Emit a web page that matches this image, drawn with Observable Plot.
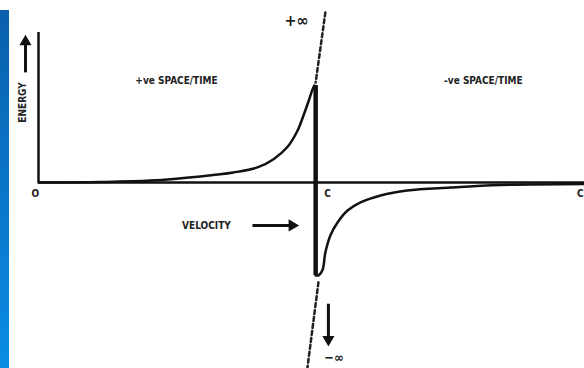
<!DOCTYPE html>
<html>
<head>
<meta charset="utf-8">
<script src="https://cdn.jsdelivr.net/npm/d3@7"></script>
<script src="https://cdn.jsdelivr.net/npm/@observablehq/plot@0.6"></script>
<style>
  html, body { margin: 0; padding: 0; background: #fff; }
  #wrap { position: relative; width: 584px; height: 368px; overflow: hidden; }
  #strip { position: absolute; left: 0; top: 10px; width: 9px; height: 358px;
           background: linear-gradient(#0a60ad, #0a8ce4); }
  #chart { position: absolute; left: 0; top: 0; }
</style>
</head>
<body>
<div id="wrap"><div id="chart"></div><div id="strip"></div></div>
<script>
// velocity (units of c) and energy values
const upperV = [0, 0.224, 0.404, 0.584, 0.703, 0.790, 0.848, 0.898, 0.934, 0.956, 0.974, 0.988, 0.995];
const upperE = [0, 0.005, 0.02, 0.062, 0.103, 0.155, 0.240, 0.365, 0.530, 0.690, 0.835, 0.955, 1.0];
const lowerV = [1.0, 1.012, 1.025, 1.035, 1.053, 1.079, 1.115, 1.162, 1.234, 1.331, 1.486, 1.667, 1.97];
const lowerE = [-0.96, -0.955, -0.90, -0.722, -0.546, -0.412, -0.289, -0.206, -0.134, -0.082, -0.052, -0.026, -0.015];
const cV = 1.0, peakE = 1.0, troughE = -0.96;
const xMax = 1.97, yAxisTop = 1.546;
const dashTopV = [1.035, 1.0], dashTopE = [1.753, 1.03];
const dashBotV = [1.01, 0.970], dashBotE = [-1.03, -1.918];
const labels = ["O", "C", "C", "+ve SPACE/TIME", "-ve SPACE/TIME", "VELOCITY"];
const labelV = [-0.011, 1.043, 1.955, 0.498, 1.605, 0.606];
const labelE = [-0.113, -0.113, -0.113, 1.05, 1.05, -0.443];
const infLabels = ["+\u221e", "\u2212\u221e"];
const infV = [0.931, 1.066];
const infE = [1.67, -1.81];
const infSize = [16, 13];
// arrows: shaft start, shaft end, head centre, head direction (degrees)
const arrowV1 = [-0.047, 0.772, 1.046];
const arrowE1 = [1.135, -0.443, -1.25];
const arrowV2 = [-0.047, 0.915, 1.046];
const arrowE2 = [1.44, -0.443, -1.61];
const headV = [-0.047, 0.915, 1.046];
const headE = [1.45, -0.443, -1.62];
const arrowDir = [0, 90, 180];

const upper = upperV.map((v, i) => ({v, e: upperE[i]}));
const lower = lowerV.map((v, i) => ({v, e: lowerE[i]}));
const dashTop = dashTopV.map((v, i) => ({v, e: dashTopE[i]}));
const dashBot = dashBotV.map((v, i) => ({v, e: dashBotE[i]}));
const lab = labels.map((t, i) => ({t, v: labelV[i], e: labelE[i]}));
const inf = infLabels.map((t, i) => ({t, v: infV[i], e: infE[i], s: infSize[i]}));
const arrows = arrowV1.map((v1, i) => ({v1, e1: arrowE1[i], v2: arrowV2[i], e2: arrowE2[i],
  hv: headV[i], he: headE[i], dir: arrowDir[i]}));
const fontFam = "'DejaVu Sans Condensed', 'DejaVu Sans', sans-serif";

const plot = Plot.plot({
  width: 584, height: 368,
  marginLeft: 38, marginRight: 0, marginTop: 0, marginBottom: 0,
  x: {domain: [0, xMax], axis: null},
  y: {domain: [-1.918, 1.876], axis: null},
  style: {background: "transparent", fontFamily: fontFam},
  marks: [
    Plot.ruleY([0], {x1: 0, x2: xMax, stroke: "#111", strokeWidth: 2.5}),
    Plot.ruleX([0], {y1: 0, y2: yAxisTop, stroke: "#111", strokeWidth: 2.5}),
    Plot.line(dashTop, {x: "v", y: "e", stroke: "#222", strokeWidth: 2.5, strokeDasharray: "4,3"}),
    Plot.line(dashBot, {x: "v", y: "e", stroke: "#222", strokeWidth: 2.5, strokeDasharray: "4,3"}),
    Plot.line(upper, {x: "v", y: "e", stroke: "#111", strokeWidth: 2.5, curve: "catmull-rom"}),
    Plot.line(lower, {x: "v", y: "e", stroke: "#111", strokeWidth: 2.5, curve: "catmull-rom"}),
    Plot.ruleX([cV], {y1: peakE, y2: troughE, stroke: "#111", strokeWidth: 4.5}),
    Plot.link(arrows, {x1: "v1", y1: "e1", x2: "v2", y2: "e2", stroke: "#111", strokeWidth: 3}),
    Plot.dot(arrows, {x: "hv", y: "he", rotate: "dir", symbol: "triangle", r: 4.5, fill: "#111"}),
    Plot.text(lab, {x: "v", y: "e", text: "t", fontSize: 10, fontWeight: "bold", fill: "#222"}),
    Plot.text(inf, {x: "v", y: "e", text: "t", fontSize: "s", fontWeight: "bold", fill: "#222"}),
    Plot.text(["ENERGY"], {x: -0.058, y: 0.825, rotate: -90, fontSize: 10, fontWeight: "bold", fill: "#222"})
  ]
});
document.getElementById("chart").appendChild(plot);
</script>
</body>
</html>
